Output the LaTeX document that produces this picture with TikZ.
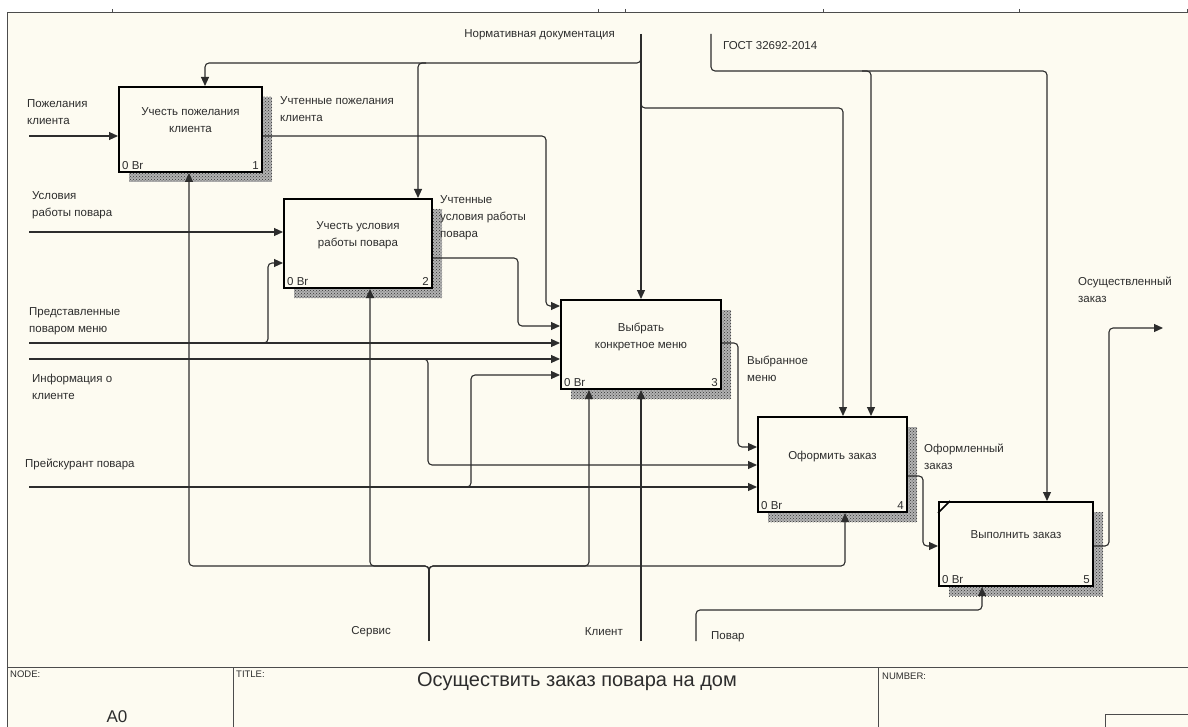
\documentclass[tikz,border=0pt]{standalone}
\usepackage{fontspec}
\setmainfont{Liberation Sans}
\usetikzlibrary{arrows.meta,patterns}
\definecolor{paper}{RGB}{253,251,241}
\definecolor{ink}{RGB}{45,45,45}
\tikzset{
        >={Triangle[length=9pt,width=8pt]}, % filled arrow heads of IDEF0
        every node/.style={text=ink}, % grey-black text everywhere
    }
\tikzstyle{func}=[draw=black,line width=2pt,fill=paper,inner sep=0pt,
    preaction={draw=none,fill=black!30,transform canvas={xshift=10pt,yshift=-10pt}},
    preaction={draw=none,pattern=crosshatch dots,pattern color=black!80,
    transform canvas={xshift=10pt,yshift=-10pt}}]
\tikzstyle{flow}=[->,draw=ink,line width=1.1pt,rounded corners=4pt]
\tikzstyle{lbl}=[font=\fontsize{11.5}{17}\selectfont,align=left,inner sep=0pt]
\tikzstyle{ftxt}=[font=\fontsize{11.5}{17}\selectfont,align=center,inner sep=0pt]
\tikzstyle{tag}=[font=\fontsize{11.5}{13}\selectfont,inner xsep=4pt,inner ysep=3pt]
\tikzstyle{head}=[font=\fontsize{9.5}{10}\selectfont,anchor=north west,inner sep=0pt]

\begin{document}
\begin{tikzpicture}[x=1pt,y=-1pt]
    \useasboundingbox (0,0) rectangle (1188,727);
    % sheet and title block
    \fill[paper] (7,13) rectangle (1188,727);
    \draw[gray!60!black,line width=1pt] (7,727) -- (7,13) -- (1188,13);
    \foreach \t in {112,598,625,823,1019,1187}
        \draw[gray!60!black,line width=1pt] (\t,9) -- (\t,13);
    \draw[gray!60!black,line width=1pt] (7,667) -- (1188,667);
    \draw[gray!60!black,line width=1pt] (233,667) -- (233,727);
    \draw[gray!60!black,line width=1pt] (878,667) -- (878,727);
    \draw[gray!60!black,line width=1pt] (1105,727) |- (1188,714);
    \node[head] at (10,671) {NODE:};
    \node[head] at (236,671) {TITLE:};
    \node[head] at (882,673) {NUMBER:};
    \node[font=\fontsize{17}{17}\selectfont] at (117,717) {A0};
    \node[font=\fontsize{20}{20}\selectfont] at (577,682) {Осуществить заказ повара на дом};

    % functions
    \node[func,minimum width=143pt,minimum height=85pt] (b1) at (190.5,129.5) {};
    \node[func,minimum width=148pt,minimum height=89pt] (b2) at (358,243.5) {};
    \node[func,minimum width=160pt,minimum height=89pt] (b3) at (641,344.5) {};
    \node[func,minimum width=149pt,minimum height=95pt] (b4) at (832.5,464.5) {};
    \node[func,minimum width=154pt,minimum height=84pt] (b5) at (1016,544) {};
    \draw[line width=1.5pt] ([yshift=-12pt]b5.north west) -- ([xshift=12pt]b5.north west);

    \node[ftxt,yshift=9pt] at (b1) {Учесть пожелания\\клиента};
    \node[ftxt,yshift=8pt] at (b2) {Учесть условия\\работы повара};
    \node[ftxt,yshift=8pt] at (b3) {Выбрать\\конкретное меню};
    \node[ftxt,yshift=8pt] at (b4) {Оформить заказ};
    \node[ftxt,yshift=9pt] at (b5) {Выполнить заказ};
    \foreach \b/\n in {b1/1,b2/2,b3/3,b4/4,b5/5} {
        \node[tag,anchor=south west] at (\b.south west) {0 Br};
        \node[tag,anchor=south east] at (\b.south east) {\n};
    }

    % inputs
    \coordinate (pk) at (29,136);
    \coordinate (ur) at (29,232);
    \coordinate (pm) at (29,343);
    \coordinate (ik) at (29,359);
    \coordinate (pr) at (29,487);
    \draw[flow] (pk) -- (pk -| b1.west);
    \draw[flow] (ur) -- (ur -| b2.west);
    \draw[flow] (pm) -- (pm -| b3.west);
    \draw[flow] (ik) -- (ik -| b3.west);
    \draw[flow] (pr) -- (pr -| b4.west);
    \draw[flow] (258,343) -| (268,263) -- (b2.west |- 0,263);
    \draw[flow] (420,359) -| (428,465) -- (b4.west |- 0,465);
    \draw[flow] (462,487) -| (471,375) -- (b3.west |- 0,375);

    % outputs
    \coordinate (oz) at (1163,328);
    \draw[flow] (b1.east |- pk) -| (546,306) -- (b3.west |- 0,306);
    \draw[flow] (b2.east |- 0,258) -| (518,326) -- (b3.west |- 0,326);
    \draw[flow] (b3.east |- pm) -| (738,447) -- (b4.west |- 0,447);
    \draw[flow] (b4.east |- 0,476) -| (923,546) -- (b5.west |- 0,546);
    \draw[flow] (b5.east |- 0,546) -| (1109,328) -- (oz);

    % controls
    \coordinate (nd) at (641,34);
    \coordinate (go) at (711,34);
    \draw[flow] (nd) -- (b3.north);
    \draw[flow] (nd |- 0,55) |- (205,63) -- (b1.north -| 205,0);
    \draw[flow] (426,63) -| (b2.north -| 418,0);
    \draw[flow] (nd |- 0,100) |- (843,108) -- (b4.north -| 843,0);
    \draw[flow] (go) |- (1047,71) -- (b5.north -| 1047,0);
    \draw[flow] (862,71) -| (b4.north -| 871,0);

    % mechanisms
    \coordinate (se) at (429,641);
    \coordinate (kl) at (641,641);
    \coordinate (po) at (696,641);
    \draw[draw=ink,line width=1.1pt] (se) -- (429,572);
    \foreach \b/\x in {b1/189,b2/370,b3/589,b4/845}
        \draw[flow] (429,574) |- (\x,566) -- (\b.south -| \x,0);
    \draw[flow] (kl) -- (b3.south -| kl);
    \draw[flow] (po) |- (982,610) -- (b5.south -| 982,0);

    % arrow labels
    \node[lbl,anchor=east] at (615,35) {Нормативная документация};
    \node[lbl,anchor=west] at (723,46) {ГОСТ 32692-2014};
    \node[lbl,anchor=west] at (27,112) {Пожелания\\клиента};
    \node[lbl,anchor=west] at (32,205) {Условия\\работы повара};
    \node[lbl,anchor=west] at (29,321) {Представленные\\поваром меню};
    \node[lbl,anchor=west] at (32,387) {Информация о\\клиенте};
    \node[lbl,anchor=west] at (25,464) {Прейскурант повара};
    \node[lbl,anchor=west] at (280,109) {Учтенные пожелания\\клиента};
    \node[lbl,anchor=west] at (440,218) {Учтенные\\условия работы\\повара};
    \node[lbl,anchor=west] at (747,369) {Выбранное\\меню};
    \node[lbl,anchor=west] at (924,457) {Оформленный\\заказ};
    \node[lbl,anchor=west] at (1078,290) {Осуществленный\\заказ};
    \node[lbl,anchor=east] at (391,632) {Сервис};
    \node[lbl,anchor=east] at (623,632) {Клиент};
    \node[lbl,anchor=west] at (711,637) {Повар};
\end{tikzpicture}
\end{document}
